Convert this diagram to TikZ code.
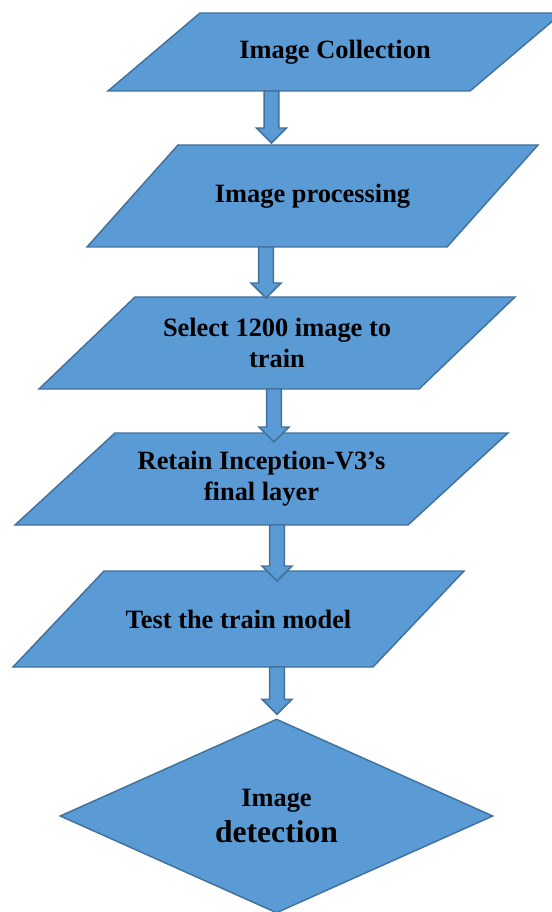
\documentclass[tikz,border=0pt]{standalone}
\usepackage{fontspec}
\setmainfont{Liberation Serif}
\usetikzlibrary{shapes.geometric,calc,backgrounds}

\definecolor{boxblue}{RGB}{91,155,213}
\definecolor{boxline}{RGB}{65,113,156}
\def\px{0.75pt}

\begin{document}
\begin{tikzpicture}
		[x=\px, y=-\px,
		flow node/.style={rectangle, inner sep=0pt, outer sep=0pt, align=center,
			font=\bfseries\fontsize{19.8}{23.5}\selectfont},
		box/.style={draw=boxline, fill=boxblue, line width=1.1pt},
		block arrow/.style={box,
			to path={let \p1=(\tikztostart), \p2=(\tikztotarget) in
				(\x1-5.6pt,\y1) -- (\x1+5.6pt,\y1) -- (\x1+5.6pt,\y2+11.25pt)
				-- (\x1+11.25pt,\y2+11.25pt) -- (\x1,\y2) -- (\x1-11.25pt,\y2+11.25pt)
				-- (\x1-5.6pt,\y2+11.25pt) -- cycle}}]
		\useasboundingbox (0,0) rectangle (551,912);

		% the five steps
		\node[flow node, minimum width=362*\px, minimum height=78*\px] (collect) at (335,52) {Image Collection};
		\node[flow node, minimum width=360*\px, minimum height=102*\px] (process) at (312.5,196) {Image processing};
		\node[flow node, minimum width=380*\px, minimum height=92*\px] (select) at (277,343) {Select 1200 image to\\train};
		\node[flow node, minimum width=393*\px, minimum height=92*\px] (retain) at (261.5,479) {Retain Inception-V3’s\\final layer};
		\node[flow node, minimum width=360*\px, minimum height=96*\px] (test) at (238.5,619) {Test the train model};

		% final decision
		\node[diamond, box, inner sep=0pt, align=center,
			minimum width=433*\px, minimum height=194*\px,
			font=\bfseries\fontsize{19.8}{23.5}\selectfont] (detect) at (276.5,816)
			{Image\\[3.5pt]{\fontsize{23.7}{27}\selectfont detection}};

		% slanted boxes behind the step texts
		\begin{scope}[on background layer]
			\foreach \n/\o in {collect/92, process/91, select/96, retain/100, test/91}
				\draw[box] ($(\n.north west)+(\o/2,0)$) -- ($(\n.north east)+(\o/2,0)$)
					-- ($(\n.south east)-(\o/2,0)$) -- ($(\n.south west)-(\o/2,0)$) -- cycle;
		\end{scope}

		\draw[block arrow] ($(collect.south)+(-63.5,0)$) to ($(process.north)+(-41,-2)$);
		\draw[block arrow] ($(process.south)+(-46.5,0)$) to ($(select.north)+(-11,1)$);
		\draw[block arrow] ($(select.south)+(-3,0)$) to ($(retain.north)+(12.5,9)$);
		\draw[block arrow] ($(retain.south)+(15.5,0)$) to ($(test.north)+(38.5,10)$);
		\draw[block arrow] ($(test.south)+(38.5,0)$) to ($(detect.north)+(0.5,-4)$);
\end{tikzpicture}
\end{document}
